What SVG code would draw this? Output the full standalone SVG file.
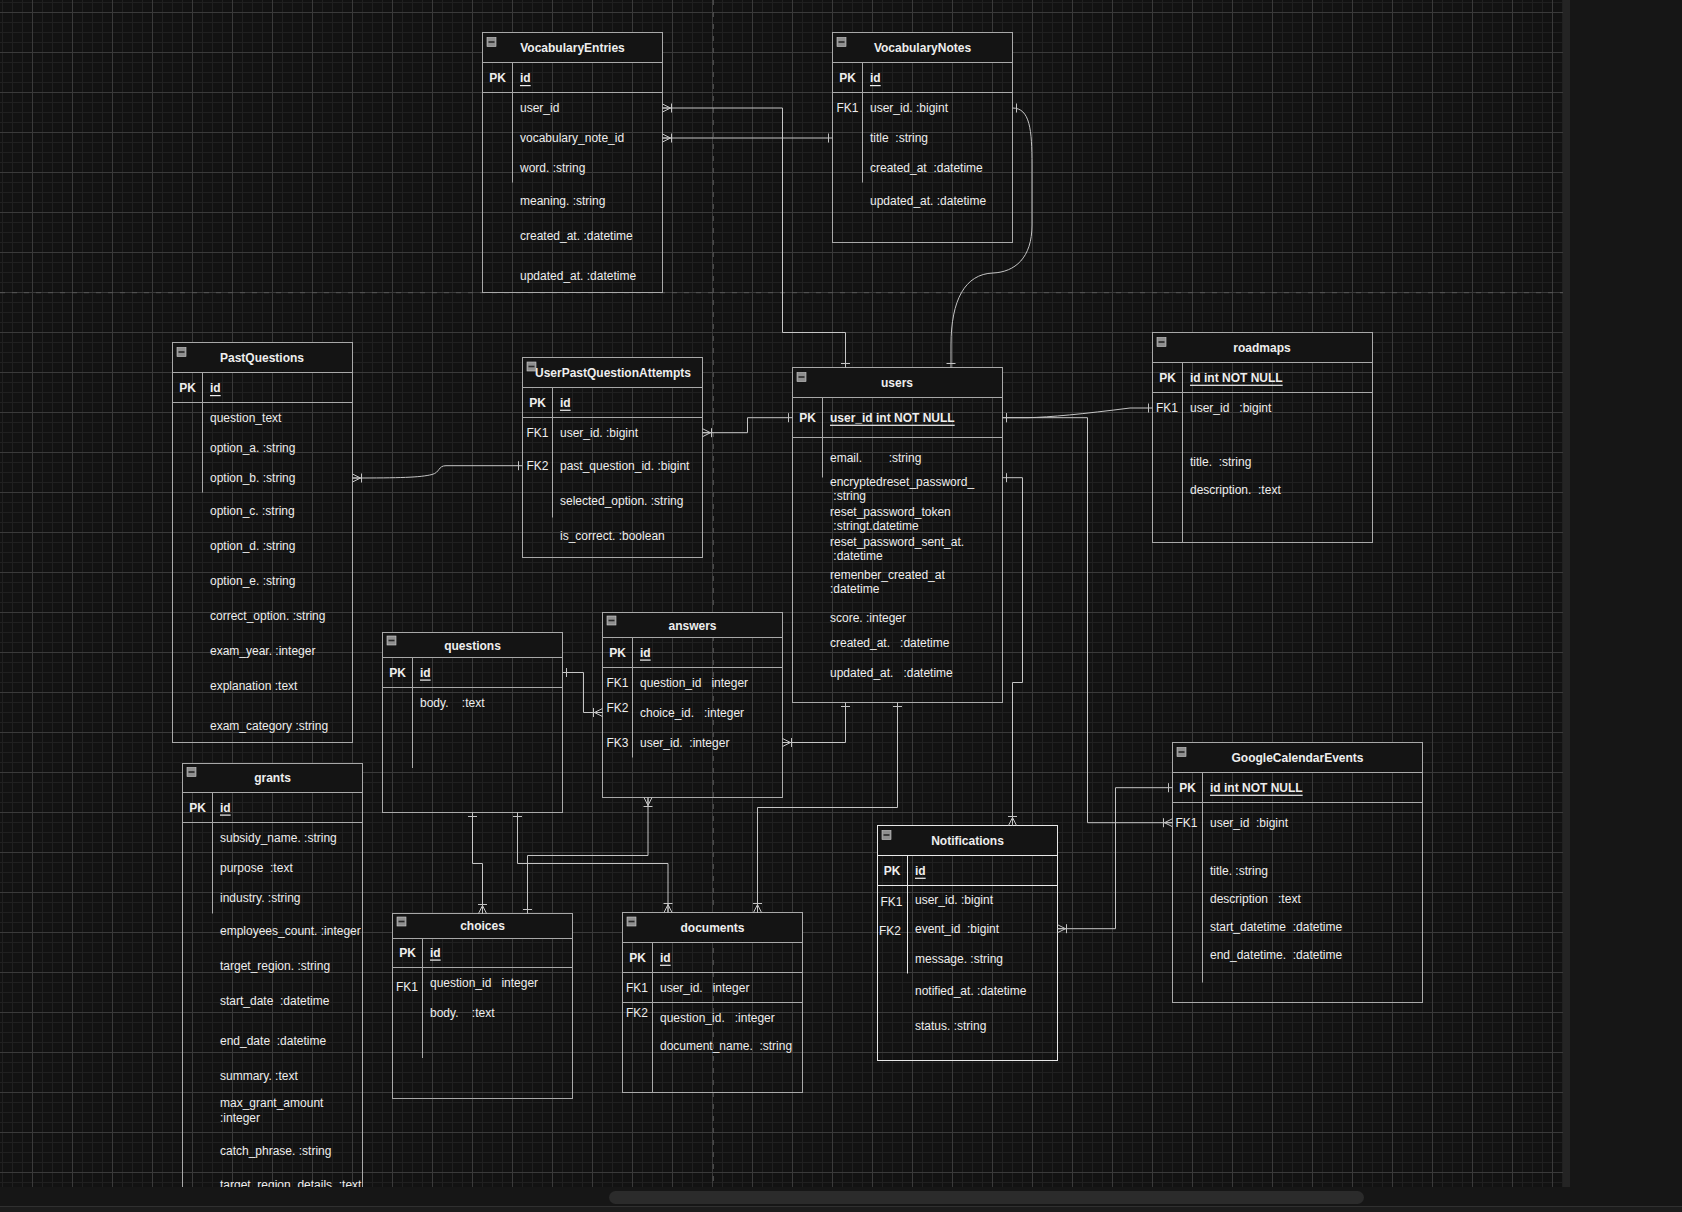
<svg xmlns="http://www.w3.org/2000/svg" xmlns:xlink="http://www.w3.org/1999/xlink" width="1682" height="1212" viewBox="0 0 1682 1212">
<style>
.tb{fill:none;stroke:#a8a8a8;stroke-width:1}
.tbw{fill:none;stroke:#e8e8e8;stroke-width:1}
.hd{fill:#141414;stroke:none}
.ln{stroke:#a8a8a8;stroke-width:1;fill:none}
.lnw{stroke:#e8e8e8;stroke-width:1;fill:none}
.t{font-family:"Liberation Sans",Arial,Helvetica,sans-serif;font-size:12px;fill:#eeeeee;white-space:pre;dominant-baseline:central}
.b{font-weight:bold}
.c{text-anchor:middle}
.u{text-decoration:underline}
.edge{fill:none;stroke:#c4c4c4;stroke-width:1}
.mk{fill:none;stroke:#c4c4c4;stroke-width:1}
</style>
<defs>
<pattern id="grid" x="2" y="2" width="40" height="40" patternUnits="userSpaceOnUse">
<path d="M0.5,0V40M10.5,0V40M20.5,0V40M0,0.5H40M0,20.5H40M0,30.5H40" stroke="#202020" stroke-width="1" fill="none"/>
<path d="M30.5,0V40M0,10.5H40" stroke="#3a3a3a" stroke-width="1" fill="none"/>
</pattern>
<clipPath id="canvasClip"><rect x="0" y="0" width="1563" height="1187"/></clipPath>
<g id="col">
<rect x="0" y="0" width="9" height="9" fill="#8e8e8e" stroke="#cfcfcf" stroke-width="0.6"/>
<path d="M1.5,4.5H7.5" stroke="#2a2a2a" stroke-width="1.6"/>
</g>
<marker id="one" viewBox="-7 -6 8 12" refX="0" refY="0" markerWidth="8" markerHeight="12" markerUnits="userSpaceOnUse" orient="auto-start-reverse">
<path class="mk" d="M-4,-4.5V4.5"/>
</marker>
<marker id="many" viewBox="-12 -6 13 12" refX="0" refY="0" markerWidth="13" markerHeight="12" markerUnits="userSpaceOnUse" orient="auto-start-reverse">
<path class="mk" d="M0,-4L-8,0L0,4M0,0H-8M-9,-4.5V4.5"/>
</marker>
</defs>

<rect x="0" y="0" width="1682" height="1212" fill="#161616"/>
<g id="canvas" clip-path="url(#canvasClip)">
<rect x="0" y="0" width="1563" height="1187" fill="#121212"/>
<rect x="0" y="0" width="1563" height="1187" fill="url(#grid)"/>
<path d="M0,292.7H1563M713.3,0V1187" stroke="#555555" stroke-width="1" stroke-dasharray="5 7" fill="none"/>

<g id="VocabularyEntries">
<rect class="hd" x="482.5" y="32.5" width="180" height="30"/>
<path class="ln" d="M482.5,62.5H662.5M482.5,92.5H662.5M512.5,62.5V182.5"/>
<rect class="tb" x="482.5" y="32.5" width="180" height="260"/>
<use href="#col" x="487" y="37.5"/>
<text class="t b c" x="572.5" y="47.7">VocabularyEntries</text>
<text class="t b c" x="497.5" y="78">PK</text>
<text class="t b u" x="520" y="78">id</text>
<text class="t" x="520" y="108">user_id</text>
<text class="t" x="520" y="138">vocabulary_note_id</text>
<text class="t" x="520" y="168">word. :string</text>
<text class="t" x="520" y="201">meaning. :string</text>
<text class="t" x="520" y="235.7">created_at. :datetime</text>
<text class="t" x="520" y="276">updated_at. :datetime</text>
</g>

<g id="VocabularyNotes">
<rect class="hd" x="832.5" y="32.5" width="180" height="30"/>
<path class="ln" d="M832.5,62.5H1012.5M832.5,92.5H1012.5M862.5,62.5V182.5"/>
<rect class="tb" x="832.5" y="32.5" width="180" height="210"/>
<use href="#col" x="837" y="37.5"/>
<text class="t b c" x="922.5" y="47.7">VocabularyNotes</text>
<text class="t b c" x="847.5" y="78">PK</text>
<text class="t b u" x="870" y="78">id</text>
<text class="t c" x="847.5" y="108">FK1</text>
<text class="t" x="870" y="108">user_id. :bigint</text>
<text class="t" x="870" y="138">title  :string</text>
<text class="t" x="870" y="168">created_at  :datetime</text>
<text class="t" x="870" y="201">updated_at. :datetime</text>
</g>

<g id="PastQuestions">
<rect class="hd" x="172.5" y="342.5" width="180" height="30"/>
<path class="ln" d="M172.5,372.5H352.5M172.5,402.5H352.5M202.5,372.5V492.5"/>
<rect class="tb" x="172.5" y="342.5" width="180" height="400"/>
<use href="#col" x="177" y="347.5"/>
<text class="t b c" x="262" y="357.7">PastQuestions</text>
<text class="t b c" x="187.5" y="388">PK</text>
<text class="t b u" x="210" y="388">id</text>
<text class="t" x="210" y="418">question_text</text>
<text class="t" x="210" y="448">option_a. :string</text>
<text class="t" x="210" y="478">option_b. :string</text>
<text class="t" x="210" y="511">option_c. :string</text>
<text class="t" x="210" y="546">option_d. :string</text>
<text class="t" x="210" y="581">option_e. :string</text>
<text class="t" x="210" y="616">correct_option. :string</text>
<text class="t" x="210" y="651">exam_year. :integer</text>
<text class="t" x="210" y="686">explanation :text</text>
<text class="t" x="210" y="726">exam_category :string</text>
</g>

<g id="UserPastQuestionAttempts">
<rect class="hd" x="522.5" y="357.5" width="180" height="30"/>
<path class="ln" d="M522.5,387.5H702.5M522.5,417.5H702.5M552.5,387.5V517.5"/>
<rect class="tb" x="522.5" y="357.5" width="180" height="200"/>
<text class="t b c" x="613" y="372.7">UserPastQuestionAttempts</text>
<use href="#col" x="527" y="362"/>
<text class="t b c" x="537.5" y="402.7">PK</text>
<text class="t b u" x="560" y="402.7">id</text>
<text class="t c" x="537.5" y="432.7">FK1</text>
<text class="t" x="560" y="432.7">user_id. :bigint</text>
<text class="t c" x="537.5" y="465.7">FK2</text>
<text class="t" x="560" y="465.7">past_question_id. :bigint</text>
<text class="t" x="560" y="500.7">selected_option. :string</text>
<text class="t" x="560" y="535.7">is_correct. :boolean</text>
</g>

<g id="users">
<rect class="hd" x="792.5" y="367.5" width="210" height="30"/>
<path class="ln" d="M792.5,397.5H1002.5M792.5,437.5H1002.5M822.5,397.5V477.5"/>
<rect class="tb" x="792.5" y="367.5" width="210" height="335"/>
<use href="#col" x="797" y="372.5"/>
<text class="t b c" x="897" y="382.7">users</text>
<text class="t b c" x="807.5" y="417.7">PK</text>
<text class="t b u" x="830" y="417.7">user_id int NOT NULL</text>
<text class="t" x="830" y="457.7">email.        :string</text>
<text class="t" x="830" y="482">encryptedreset_password_</text>
<text class="t" x="830" y="495.7"> :string</text>
<text class="t" x="830" y="512">reset_password_token</text>
<text class="t" x="830" y="525.7"> :stringt.datetime</text>
<text class="t" x="830" y="542">reset_password_sent_at.</text>
<text class="t" x="830" y="555.7"> :datetime</text>
<text class="t" x="830" y="575">remenber_created_at</text>
<text class="t" x="830" y="588.7">:datetime</text>
<text class="t" x="830" y="617.7">score. :integer</text>
<text class="t" x="830" y="642.7">created_at.   :datetime</text>
<text class="t" x="830" y="672.7">updated_at.   :datetime</text>
</g>

<g id="roadmaps">
<rect class="hd" x="1152.5" y="332.5" width="220" height="30"/>
<path class="ln" d="M1152.5,362.5H1372.5M1152.5,392.5H1372.5M1182.5,362.5V542.5"/>
<rect class="tb" x="1152.5" y="332.5" width="220" height="210"/>
<use href="#col" x="1157" y="337.5"/>
<text class="t b c" x="1262" y="348">roadmaps</text>
<text class="t b c" x="1167.5" y="377.7">PK</text>
<text class="t b u" x="1190" y="377.7">id int NOT NULL</text>
<text class="t c" x="1167" y="408">FK1</text>
<text class="t" x="1190" y="408">user_id   :bigint</text>
<text class="t" x="1190" y="461.7">title.  :string</text>
<text class="t" x="1190" y="490">description.  :text</text>
</g>

<g id="questions">
<rect class="hd" x="382.5" y="632.5" width="180" height="25"/>
<path class="ln" d="M382.5,657.5H562.5M382.5,687.5H562.5M412.5,657.5V768"/>
<rect class="tb" x="382.5" y="632.5" width="180" height="180"/>
<use href="#col" x="387" y="636"/>
<text class="t b c" x="472.5" y="645.5">questions</text>
<text class="t b c" x="397.5" y="672.5">PK</text>
<text class="t b u" x="420" y="672.5">id</text>
<text class="t" x="420" y="703">body.    :text</text>
</g>

<g id="answers">
<rect class="hd" x="602.5" y="612.5" width="180" height="25"/>
<path class="ln" d="M602.5,637.5H782.5M602.5,667.5H782.5M632.5,637.5V757.5"/>
<rect class="tb" x="602.5" y="612.5" width="180" height="185"/>
<use href="#col" x="607" y="616"/>
<text class="t b c" x="692.5" y="625.5">answers</text>
<text class="t b c" x="617.5" y="652.5">PK</text>
<text class="t b u" x="640" y="652.5">id</text>
<text class="t c" x="617.5" y="682.5">FK1</text>
<text class="t" x="640" y="682.5">question_id   integer</text>
<text class="t c" x="617.5" y="707.5">FK2</text>
<text class="t" x="640" y="712.5">choice_id.   :integer</text>
<text class="t c" x="617.5" y="742.5">FK3</text>
<text class="t" x="640" y="742.5">user_id.  :integer</text>
</g>

<g id="choices">
<rect class="hd" x="392.5" y="913.5" width="180" height="25"/>
<path class="ln" d="M392.5,938.5H572.5M392.5,967.5H572.5M422.5,938.5V1058"/>
<rect class="tb" x="392.5" y="913.5" width="180" height="185"/>
<use href="#col" x="397" y="917"/>
<text class="t b c" x="482.5" y="926">choices</text>
<text class="t b c" x="407.5" y="952.5">PK</text>
<text class="t b u" x="430" y="952.5">id</text>
<text class="t c" x="407" y="987">FK1</text>
<text class="t" x="430" y="982.5">question_id   integer</text>
<text class="t" x="430" y="1012.5">body.    :text</text>
</g>

<g id="grants">
<rect class="hd" x="182.5" y="763.5" width="180" height="29"/>
<path class="ln" d="M182.5,792.5H362.5M182.5,822.5H362.5M212.5,792.5V913.5"/>
<rect class="tb" x="182.5" y="763.5" width="180" height="460"/>
<use href="#col" x="187" y="767.5"/>
<text class="t b c" x="272.5" y="778">grants</text>
<text class="t b c" x="197.5" y="807.5">PK</text>
<text class="t b u" x="220" y="807.5">id</text>
<text class="t" x="220" y="837.5">subsidy_name. :string</text>
<text class="t" x="220" y="867.5">purpose  :text</text>
<text class="t" x="220" y="897.5">industry. :string</text>
<text class="t" x="220" y="930.5">employees_count. :integer</text>
<text class="t" x="220" y="965.5">target_region. :string</text>
<text class="t" x="220" y="1000.5">start_date  :datetime</text>
<text class="t" x="220" y="1040.5">end_date  :datetime</text>
<text class="t" x="220" y="1075.5">summary. :text</text>
<text class="t" x="220" y="1103">max_grant_amount</text>
<text class="t" x="220" y="1118">:integer</text>
<text class="t" x="220" y="1150.5">catch_phrase. :string</text>
<text class="t" x="220" y="1184.5">target_region_details  :text</text>
</g>

<g id="documents">
<rect class="hd" x="622.5" y="912.5" width="180" height="30"/>
<path class="ln" d="M622.5,942.5H802.5M622.5,972.5H802.5M622.5,1002.5H802.5M652.5,942.5V1092.5"/>
<rect class="tb" x="622.5" y="912.5" width="180" height="180"/>
<use href="#col" x="627" y="917"/>
<text class="t b c" x="712.5" y="927.7">documents</text>
<text class="t b c" x="637.5" y="957.7">PK</text>
<text class="t b u" x="660" y="957.7">id</text>
<text class="t c" x="637" y="987.7">FK1</text>
<text class="t" x="660" y="987.7">user_id.   integer</text>
<text class="t c" x="637" y="1012.7">FK2</text>
<text class="t" x="660" y="1017.7">question_id.   :integer</text>
<text class="t" x="660" y="1045.7">document_name.  :string</text>
</g>

<g id="Notifications">
<rect class="hd" x="877.5" y="825.5" width="180" height="30"/>
<path class="lnw" d="M877.5,855.5H1057.5M877.5,885.5H1057.5M907.5,855.5V973.5"/>
<rect class="tbw" x="877.5" y="825.5" width="180" height="235"/>
<use href="#col" x="882" y="830.5"/>
<text class="t b c" x="967.5" y="840.7">Notifications</text>
<text class="t b c" x="892" y="870.7">PK</text>
<text class="t b u" x="915" y="870.7">id</text>
<text class="t c" x="891.5" y="902.3">FK1</text>
<text class="t" x="915" y="899.7">user_id. :bigint</text>
<text class="t c" x="890" y="930.7">FK2</text>
<text class="t" x="915" y="928.7">event_id  :bigint</text>
<text class="t" x="915" y="959">message. :string</text>
<text class="t" x="915" y="990.7">notified_at. :datetime</text>
<text class="t" x="915" y="1025.7">status. :string</text>
</g>

<g id="GoogleCalendarEvents">
<rect class="hd" x="1172.5" y="742.5" width="250" height="30"/>
<path class="ln" d="M1172.5,772.5H1422.5M1172.5,802.5H1422.5M1202.5,772.5V982.5"/>
<rect class="tb" x="1172.5" y="742.5" width="250" height="260"/>
<use href="#col" x="1177" y="747.5"/>
<text class="t b c" x="1297.5" y="757.7">GoogleCalendarEvents</text>
<text class="t b c" x="1187.5" y="787.7">PK</text>
<text class="t b u" x="1210" y="787.7">id int NOT NULL</text>
<text class="t c" x="1186.5" y="822.7">FK1</text>
<text class="t" x="1210" y="822.7">user_id  :bigint</text>
<text class="t" x="1210" y="871">title. :string</text>
<text class="t" x="1210" y="899">description   :text</text>
<text class="t" x="1210" y="926.7">start_datetime  :datetime</text>
<text class="t" x="1210" y="954.7">end_datetime.  :datetime</text>
</g>

<g id="connectors">
<path class="edge" d="M662.5,108H782.5V332.5H845.5V367.5" marker-start="url(#many)" marker-end="url(#one)"/>
<path class="edge" d="M662.5,138H832.5" marker-start="url(#many)" marker-end="url(#one)"/>
<path class="edge" d="M1012.5,108C1030,108 1032,130 1032,165L1032,225C1032,258 1015,272 993,273C965,274 951,300 951,345L951,367.5" marker-start="url(#one)" marker-end="url(#one)"/>
<path class="edge" d="M702.5,432.7H747.5V417.7H792.5" marker-start="url(#many)" marker-end="url(#one)"/>
<path class="edge" d="M522.5,465.7H446C438,465.7 440,472.5 432,474.5C420,477.5 400,478 352.5,478" marker-start="url(#one)" marker-end="url(#many)"/>
<path class="edge" d="M1002.5,417.7H1028Q1060,417 1130,408H1152.5" marker-start="url(#one)" marker-end="url(#one)"/>
<path class="edge" d="M1002.5,417.7H1087.5V822.7H1172.5" marker-start="url(#one)" marker-end="url(#many)"/>
<path class="edge" d="M1002.5,477.7H1022.5V682.5H1012.5V825.5" marker-start="url(#one)" marker-end="url(#many)"/>
<path class="edge" d="M1057.5,928.7H1115.5V787.7H1172.5" marker-start="url(#many)" marker-end="url(#one)"/>
<path class="edge" d="M845.5,702.5V742.5H782.5" marker-start="url(#one)" marker-end="url(#many)"/>
<path class="edge" d="M897.5,702.5V807.5H757.5V912.5" marker-start="url(#one)" marker-end="url(#many)"/>
<path class="edge" d="M562.5,672.5H583.5V712.5H602.5" marker-start="url(#one)" marker-end="url(#many)"/>
<path class="edge" d="M472.5,812.5V863.5H482.5V913.5" marker-start="url(#one)" marker-end="url(#many)"/>
<path class="edge" d="M517.5,812.5V863.5H668V912.5" marker-start="url(#one)" marker-end="url(#many)"/>
<path class="edge" d="M648,797.5V855.5H527.5V913.5" marker-start="url(#many)" marker-end="url(#one)"/>
</g>
</g>

<rect x="1563" y="0" width="7" height="1187" fill="#242424"/>
<rect x="609" y="1191" width="755" height="13" rx="6.5" fill="#2b2b2b"/>
<rect x="0" y="1206" width="1682" height="6" fill="#1c1c1c"/>
<path d="M0,1206.5H1682" stroke="#303030" stroke-width="1"/>
</svg>
